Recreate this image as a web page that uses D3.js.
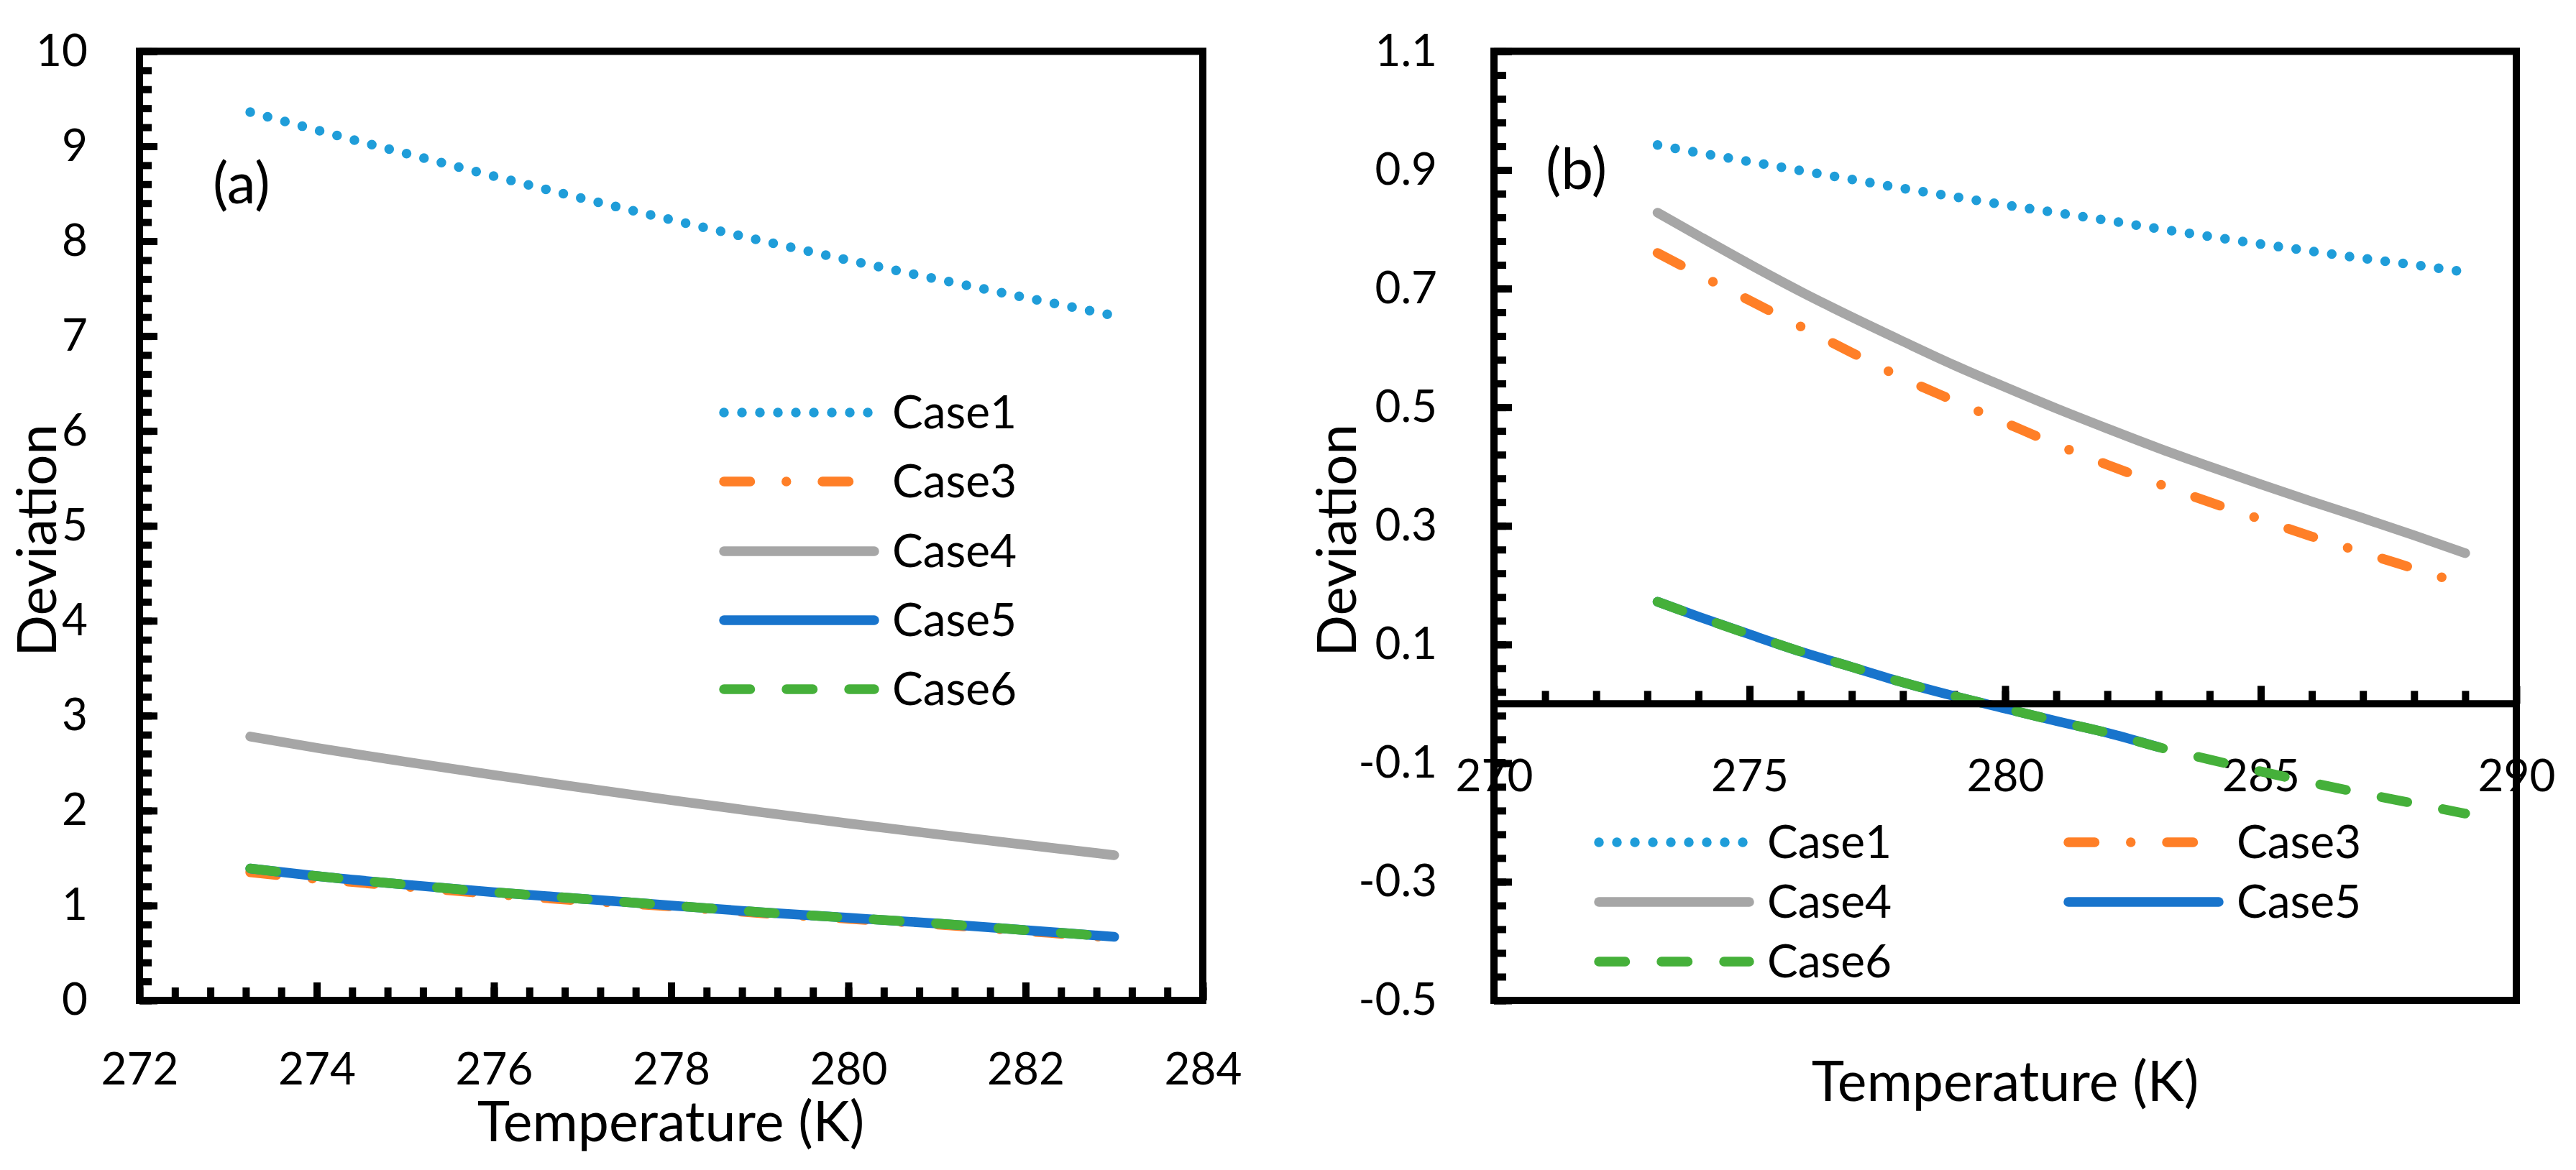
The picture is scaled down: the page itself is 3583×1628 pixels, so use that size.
<!DOCTYPE html>
<html>
<head>
<meta charset="utf-8">
<script src="https://cdn.jsdelivr.net/npm/d3@7"></script>
<style>
  body { margin: 0; background: #fff; }
  text { font-family: Lato, "Open Sans", sans-serif; fill: #000; }
</style>
</head>
<body>
<div id="chart"></div>
<script>
// panel (a) data
var tempA = [273.25, 274, 275, 276, 277, 278, 279, 280, 281, 282, 283];
var case1A = [9.36, 9.17, 8.925, 8.685, 8.45, 8.225, 8.01, 7.80, 7.60, 7.405, 7.215];
var case3A = [1.35, 1.28, 1.20, 1.12, 1.05, 0.99, 0.92, 0.86, 0.80, 0.73, 0.66];
var case4A = [2.78, 2.66, 2.515, 2.375, 2.24, 2.11, 1.985, 1.865, 1.75, 1.64, 1.53];
var case5A = [1.39, 1.31, 1.22, 1.14, 1.07, 1.00, 0.93, 0.87, 0.81, 0.74, 0.67];
var case6A = [1.39, 1.31, 1.22, 1.14, 1.07, 1.00, 0.93, 0.87, 0.81, 0.74, 0.67];

// panel (b) data
var tempB = [273.2, 274, 275, 276, 277, 278, 279, 280, 281, 282, 283, 284, 285, 286, 287, 288, 289];
var case1B = [0.942, 0.929, 0.914, 0.899, 0.884, 0.869, 0.855, 0.841, 0.828, 0.815, 0.801, 0.788, 0.775, 0.763, 0.751, 0.740, 0.728];
var case3B = [0.760, 0.724, 0.680, 0.636, 0.592, 0.549, 0.511, 0.474, 0.437, 0.403, 0.371, 0.340, 0.311, 0.282, 0.255, 0.228, 0.201];
var case4B = [0.828, 0.789, 0.741, 0.695, 0.652, 0.611, 0.571, 0.534, 0.498, 0.464, 0.431, 0.400, 0.370, 0.341, 0.313, 0.284, 0.254];
var case5B = [0.172, 0.147, 0.117, 0.088, 0.062, 0.036, 0.013, -0.008, -0.029, -0.049, -0.073];
var case6B = [0.172, 0.147, 0.117, 0.088, 0.062, 0.036, 0.013, -0.008, -0.029, -0.049, -0.073, -0.094, -0.114, -0.133, -0.151, -0.168, -0.185];

// tick labels
var xTicksA = [272, 274, 276, 278, 280, 282, 284];
var yTicksA = [0, 1, 2, 3, 4, 5, 6, 7, 8, 9, 10];
var xTicksB = [270, 275, 280, 285, 290];
var yTicksB = [-0.5, -0.3, -0.1, 0.1, 0.3, 0.5, 0.7, 0.9, 1.1];

var names = ['Case1', 'Case3', 'Case4', 'Case5', 'Case6'];

// line looks, Excel-like patterns for a 13.5px line
var look = {
  Case1: {color: '#1f9dd9', dash: '0 25'},
  Case3: {color: '#ff7f27', dash: '36.5 50.25 0 50.25'},
  Case4: {color: '#a6a6a6', dash: null},
  Case5: {color: '#1874cc', dash: null},
  Case6: {color: '#45b03a', dash: '36.5 50.5'}
};
var lw = 13.5;

var W = 3583, H = 1628;
var svg = d3.select('#chart').append('svg')
  .attr('width', W)
  .attr('height', H)
  .attr('viewBox', '0 0 ' + W + ' ' + H);

svg.append('rect').attr('width', W).attr('height', H).attr('fill', '#fff');

var xA = d3.scaleLinear().domain([272, 284]).range([194, 1673]);
var yA = d3.scaleLinear().domain([0, 10]).range([1392, 71.4]);
var xB = d3.scaleLinear().domain([270, 290]).range([2078, 3500]);
var yB = d3.scaleLinear().domain([-0.5, 1.1]).range([1392, 71.4]);

function styleAxis(g, fs) {
  g.select('.domain').remove();
  g.selectAll('.tick line').attr('stroke', '#000').attr('stroke-width', 10);
  g.selectAll('.tick text').attr('font-size', fs).attr('font-family', 'Lato').attr('fill', '#000');
}

// ---------- axes (a) ----------
var gyA = svg.append('g').attr('transform', 'translate(194,0)');
gyA.append('g').call(d3.axisLeft(yA).tickValues(d3.range(0, 10.01, 0.2)).tickSize(-17).tickFormat(''))
  .call(styleAxis, 62);
gyA.append('g').call(d3.axisLeft(yA).tickValues(yTicksA).tickSize(-25).tickPadding(72).tickFormat(d3.format('d')))
  .call(styleAxis, 62);

var gxA = svg.append('g').attr('transform', 'translate(0,1392)');
gxA.append('g').call(d3.axisBottom(xA).tickValues(d3.range(272, 284.01, 0.4)).tickSize(-18).tickFormat(''))
  .call(styleAxis, 62);
gxA.append('g').call(d3.axisBottom(xA).tickValues(xTicksA).tickSize(-25).tickFormat(d3.format('d')))
  .call(styleAxis, 62);
gxA.selectAll('.tick text').attr('y', 117).attr('dy', 0);

// ---------- axes (b) ----------
var gyB = svg.append('g').attr('transform', 'translate(2078,0)');
gyB.append('g').call(d3.axisLeft(yB).tickValues(d3.range(-0.5, 1.101, 0.04)).tickSize(-17).tickFormat(''))
  .call(styleAxis, 62);
gyB.append('g').call(d3.axisLeft(yB).tickValues(yTicksB).tickSize(-25).tickPadding(79)
  .tickFormat(function(d) { return d.toFixed(1); }))
  .call(styleAxis, 62);

var gxB = svg.append('g').attr('transform', 'translate(0,' + yB(0) + ')');
gxB.append('g').call(d3.axisBottom(xB).tickValues(d3.range(271, 290, 1)).tickSize(-18).tickFormat(''))
  .call(styleAxis, 62);
gxB.append('g').call(d3.axisBottom(xB).tickValues(xTicksB).tickSize(-25).tickFormat(d3.format('d')))
  .call(styleAxis, 62);
gxB.selectAll('.tick text').attr('y', 121.4).attr('dy', 0);

// ---------- lines ----------
function drawLines(x, y, temps, series) {
  var line = d3.line()
    .x(function(d) { return x(d[0]); })
    .y(function(d) { return y(d[1]); })
    .curve(d3.curveMonotoneX);
  names.forEach(function(n) {
    var vals = series[n];
    var pts = vals.map(function(v, i) { return [temps[i], v]; });
    svg.append('path')
      .attr('d', line(pts))
      .attr('fill', 'none')
      .attr('stroke', look[n].color)
      .attr('stroke-width', lw)
      .attr('stroke-linecap', 'round')
      .attr('stroke-linejoin', 'round')
      .attr('stroke-dasharray', look[n].dash);
  });
}

drawLines(xA, yA, tempA, {Case1: case1A, Case3: case3A, Case4: case4A, Case5: case5A, Case6: case6A});
drawLines(xB, yB, tempB, {Case1: case1B, Case3: case3B, Case4: case4B, Case5: case5B, Case6: case6B});

// ---------- frames ----------
function frame(x, y) {
  svg.append('rect')
    .attr('x', x.range()[0]).attr('y', y.range()[1])
    .attr('width', x.range()[1] - x.range()[0])
    .attr('height', y.range()[0] - y.range()[1])
    .attr('fill', 'none').attr('stroke', '#000').attr('stroke-width', 10);
}
frame(xA, yA);
frame(xB, yB);
svg.append('line')
  .attr('x1', xB.range()[0]).attr('x2', xB.range()[1])
  .attr('y1', yB(0)).attr('y2', yB(0))
  .attr('stroke', '#000').attr('stroke-width', 10);

// ---------- legends ----------
function legendItem(n, x0, y0) {
  svg.append('line')
    .attr('x1', x0).attr('x2', x0 + 209)
    .attr('y1', y0).attr('y2', y0)
    .attr('stroke', look[n].color)
    .attr('stroke-width', lw)
    .attr('stroke-linecap', 'round')
    .attr('stroke-dasharray', look[n].dash);
  svg.append('text')
    .attr('x', x0 + 234).attr('y', y0 + 22)
    .attr('font-size', 64)
    .text(n);
}
var legA = [574, 670, 767, 863, 959];
names.forEach(function(n, i) { legendItem(n, 1007, legA[i]); });

legendItem('Case1', 2224, 1172);
legendItem('Case4', 2224, 1255);
legendItem('Case6', 2224, 1338);
legendItem('Case3', 2877, 1172);
legendItem('Case5', 2877, 1255);

// ---------- titles ----------
svg.append('text').attr('x', 933).attr('y', 1588).attr('text-anchor', 'middle')
  .attr('font-size', 77).text('Temperature (K)');
svg.append('text').attr('x', 2789).attr('y', 1532).attr('text-anchor', 'middle')
  .attr('font-size', 77).text('Temperature (K)');
svg.append('text').attr('transform', 'translate(78,752) rotate(-90)').attr('text-anchor', 'middle')
  .attr('font-size', 76).text('Deviation');
svg.append('text').attr('transform', 'translate(1886,752) rotate(-90)').attr('text-anchor', 'middle')
  .attr('font-size', 76).text('Deviation');

svg.append('text').attr('x', 296).attr('y', 283).attr('font-size', 80).text('(a)');
svg.append('text').attr('x', 2150).attr('y', 263).attr('font-size', 80).text('(b)');
</script>
</body>
</html>
